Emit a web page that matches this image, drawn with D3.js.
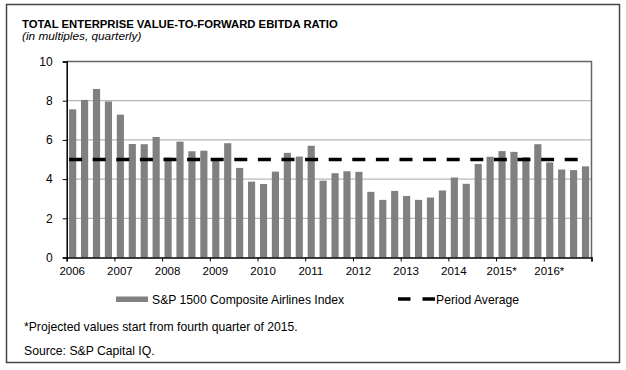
<!DOCTYPE html>
<html>
<head>
<meta charset="utf-8">
<script src="https://cdn.jsdelivr.net/npm/d3@7"></script>
<style>
  body { margin: 0; background: #fff; }
  svg { display: block; font-family: "Liberation Sans", Arial, sans-serif; }
</style>
</head>
<body>
<svg id="chart" width="626" height="370"></svg>
<script>
// quarterly values, 2006 Q1 .. 2016 Q4
var years = ["2006", "2007", "2008", "2009", "2010", "2011", "2012", "2013", "2014", "2015", "2016"];
var yearLabels = ["2006", "2007", "2008", "2009", "2010", "2011", "2012", "2013", "2014", "2015*", "2016*"];
var quarters = ["Q1", "Q2", "Q3", "Q4"];
var evEbitda = [
  7.56, 8.04, 8.60, 7.96,
  7.29, 5.79, 5.78, 6.15,
  5.10, 5.91, 5.42, 5.45,
  5.05, 5.83, 4.57, 3.87,
  3.75, 4.38, 5.34, 5.15,
  5.70, 3.92, 4.30, 4.40,
  4.37, 3.35, 2.94, 3.40,
  3.14, 2.94, 3.06, 3.42,
  4.08, 3.76, 4.77, 5.14,
  5.43, 5.39, 5.12, 5.78,
  4.85, 4.49, 4.46, 4.65
];
var periodAverage = 5.0;
var yTicks = [0, 2, 4, 6, 8, 10];

var periods = [];
years.forEach(function(yr) { quarters.forEach(function(q) { periods.push(yr + " " + q); }); });
var data = periods.map(function(p, i) { return {period: p, value: evEbitda[i]}; });

var svg = d3.select("#chart");
svg.append("rect").attr("width", 626).attr("height", 370).attr("fill", "#fff");

// outer frame
svg.append("rect")
    .attr("x", 6.5).attr("y", 4.5).attr("width", 613).attr("height", 358)
    .attr("fill", "none").attr("stroke", "#444").attr("stroke-width", 1.5);

svg.append("text")
    .attr("x", 22).attr("y", 28)
    .attr("font-size", "11.3px").attr("font-weight", "bold")
    .text("TOTAL ENTERPRISE VALUE-TO-FORWARD EBITDA RATIO");
svg.append("text")
    .attr("x", 22).attr("y", 40)
    .attr("font-size", "11.8px").attr("font-style", "italic")
    .text("(in multiples, quarterly)");

var margin = {top: 61.5, left: 66.7, right: 34.5, bottom: 112.5},
    width = 626 - margin.left - margin.right,
    height = 370 - margin.top - margin.bottom;

var g = svg.append("g").attr("transform", "translate(" + margin.left + "," + margin.top + ")");

var x = d3.scaleBand().domain(periods).range([0, width]).paddingInner(0.4).paddingOuter(0.2);
var xYear = d3.scaleLinear().domain([0, years.length]).range([0, width]);
var y = d3.scaleLinear().domain([0, 10]).range([height, 0]);

// gridlines
g.selectAll(".grid")
    .data(yTicks.filter(function(d) { return d > 0 && d < 10; }))
    .enter().append("line")
    .attr("x1", 0).attr("x2", width)
    .attr("y1", function(d) { return y(d); }).attr("y2", function(d) { return y(d); })
    .attr("stroke", "#a6a6a6").attr("stroke-width", 1);

// plot frame (top and right)
g.append("path")
    .attr("d", "M0," + y(10) + "H" + width + "V" + height)
    .attr("fill", "none").attr("stroke", "#666").attr("stroke-width", 1.5);

// bars
g.selectAll(".bar")
    .data(data)
    .enter().append("rect")
    .attr("class", "bar")
    .attr("x", function(d) { return x(d.period); })
    .attr("y", function(d) { return y(d.value); })
    .attr("width", x.bandwidth())
    .attr("height", function(d) { return height - y(d.value); })
    .attr("fill", "#808080");

// period average
g.append("line")
    .attr("x1", x(periods[0])).attr("x2", x(periods[periods.length - 1]))
    .attr("y1", y(periodAverage)).attr("y2", y(periodAverage))
    .attr("stroke", "#000").attr("stroke-width", 3.5)
    .attr("stroke-dasharray", "13,10.6");

// y axis
var yAxis = g.append("g")
    .call(d3.axisLeft(y).tickValues(yTicks).tickSize(4).tickPadding(10));
yAxis.select(".domain").attr("stroke", "#000").attr("stroke-width", 1.5);
yAxis.selectAll("text").attr("font-size", "12px").attr("font-family", null).attr("fill", "#000");

// x axis
var xAxis = g.append("g")
    .attr("transform", "translate(0," + height + ")")
    .call(d3.axisBottom(xYear).tickValues(d3.range(0, years.length + 1)).tickSize(4).tickPadding(5)
      .tickFormat(function(i) { return yearLabels[i] || ""; }));
xAxis.select(".domain").attr("stroke", "#000").attr("stroke-width", 1.5);
xAxis.selectAll("text").attr("font-size", "11.5px").attr("font-family", null)
    .attr("fill", "#000").attr("dx", 5);

// legend
svg.append("rect")
    .attr("x", 116).attr("y", 296.5).attr("width", 32).attr("height", 5.5)
    .attr("fill", "#808080");
svg.append("text")
    .attr("x", 152).attr("y", 303.5).attr("font-size", "12.2px")
    .text("S&P 1500 Composite Airlines Index");
svg.append("line")
    .attr("x1", 398).attr("x2", 435).attr("y1", 299).attr("y2", 299)
    .attr("stroke", "#000").attr("stroke-width", 3.5)
    .attr("stroke-dasharray", "12.5,12");
svg.append("text")
    .attr("x", 436).attr("y", 303.5).attr("font-size", "12.2px")
    .text("Period Average");

// notes
svg.append("text")
    .attr("x", 24).attr("y", 331).attr("font-size", "12.2px")
    .text("*Projected values start from fourth quarter of 2015.");
svg.append("text")
    .attr("x", 24).attr("y", 355).attr("font-size", "12.2px")
    .text("Source: S&P Capital IQ.");
</script>
</body>
</html>
